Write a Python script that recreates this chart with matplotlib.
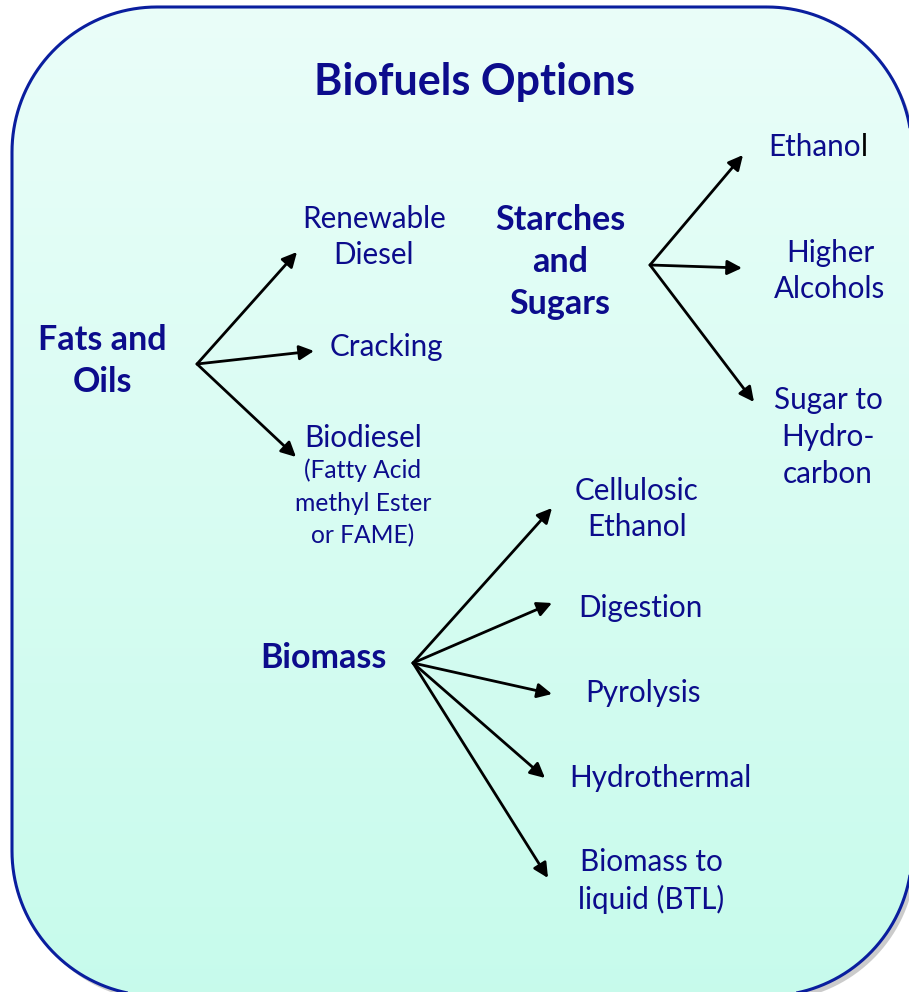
import numpy as np
import matplotlib.pyplot as plt
from matplotlib.patches import Polygon

title = "Biofuels Options"
groups = ["Fats and\nOils", "Starches\nand\nSugars", "Biomass"]
group_xy = [(102, 361), (560, 262), (323, 658)]

# arrow origins and tips per group
origins = [(197, 364), (650, 265), (413, 663)]
tips = [
    [(297, 252), (314, 351), (296, 457)],
    [(743, 155), (742, 268), (754, 402)],
    [(552, 508), (552, 603), (552, 694), (545, 778), (548, 878)],
]

options = ["Renewable\nDiesel", "Cracking", "Biodiesel",
           "Higher\nAlcohols", "Sugar to\nHydro-\ncarbon",
           "Cellulosic\nEthanol", "Digestion", "Pyrolysis", "Hydrothermal",
           "Biomass to\nliquid (BTL)"]
option_xy = [(374, 237), (386, 347), (363, 438),
             (830, 271), (828, 437),
             (637, 509), (640, 608), (643, 693), (660, 778),
             (651, 881)]
fame_note = "(Fatty Acid\nmethyl Ester\nor FAME)"
fame_xy = (363, 503)

navy = "#0c0c8c"
font = "Lato"

W, H = 909, 992
fig = plt.figure(figsize=(W / 100, H / 100), dpi=100)
ax = fig.add_axes([0, 0, 1, 1])
ax.set_xlim(0, W)
ax.set_ylim(H, 0)
ax.axis("off")


def rounded_rect(xa, ya, xb, yb, r, n=40):
    # outline of a rounded rectangle as a polygon
    pts = []
    corners = [(xb - r, ya + r, -90, 0), (xb - r, yb - r, 0, 90),
               (xa + r, yb - r, 90, 180), (xa + r, ya + r, 180, 270)]
    for cx, cy, a0, a1 in corners:
        a = np.radians(np.linspace(a0, a1, n))
        pts += list(zip(cx + r * np.cos(a), cy + r * np.sin(a)))
    return np.array(pts)


# rounded panel with shadow and vertical gradient
x0, y0, x1, y1 = 12, 7, 912, 996
rs = 145
shadow = Polygon(rounded_rect(x0 + 4, y0 + 5, x1 + 4, y1 + 5, rs), closed=True,
                 fc="#999999", ec="none", alpha=0.5, zorder=1)
ax.add_patch(shadow)
panel = Polygon(rounded_rect(x0, y0, x1, y1, rs), closed=True,
                fc="none", ec="#0a1e9e", lw=2.2, zorder=3)
ax.add_patch(panel)
top_c = np.array([0.918, 0.996, 0.976])
bot_c = np.array([0.780, 0.984, 0.925])
t = np.linspace(0, 1, 256)[:, None]
grad = (top_c * (1 - t) + bot_c * t)[:, None, :]
im = ax.imshow(grad, extent=(x0, x1, y1, y0), aspect="auto", zorder=2)
im.set_clip_path(panel)
ax.set_xlim(0, W)
ax.set_ylim(H, 0)

ax.text(475, 82, title, ha="center", va="center", fontsize=31,
        fontweight="bold", color=navy, family=font, zorder=5)

for lab, (x, y) in zip(groups, group_xy):
    ax.text(x, y, lab, ha="center", va="center", fontsize=24.5,
            fontweight="bold", color=navy, family=font,
            linespacing=1.4, zorder=5)

for lab, (x, y) in zip(options, option_xy):
    ax.text(x, y, lab, ha="center", va="center", fontsize=21.3,
            color=navy, family=font, linespacing=1.38, zorder=5)

# "Ethanol" with its last letter in black, as in the original
t1 = ax.text(768, 147, "Ethano", ha="left", va="center", fontsize=21.3,
             color=navy, family=font, zorder=5)
ax.annotate("l", xycoords=t1, xy=(1, 0.5), va="center", ha="left",
            fontsize=21.3, color="black", family=font, zorder=5)

ax.text(fame_xy[0], fame_xy[1], fame_note, ha="center", va="center",
        fontsize=17.7, color=navy, family=font, linespacing=1.48, zorder=5)

for (ox, oy), group_tips in zip(origins, tips):
    for tx, ty in group_tips:
        ax.annotate("", xy=(tx, ty), xytext=(ox, oy),
                    arrowprops=dict(arrowstyle="-|>", color="black", lw=2,
                                    mutation_scale=22, shrinkA=0, shrinkB=0),
                    zorder=4)

fig.savefig("out.png", dpi=100)
